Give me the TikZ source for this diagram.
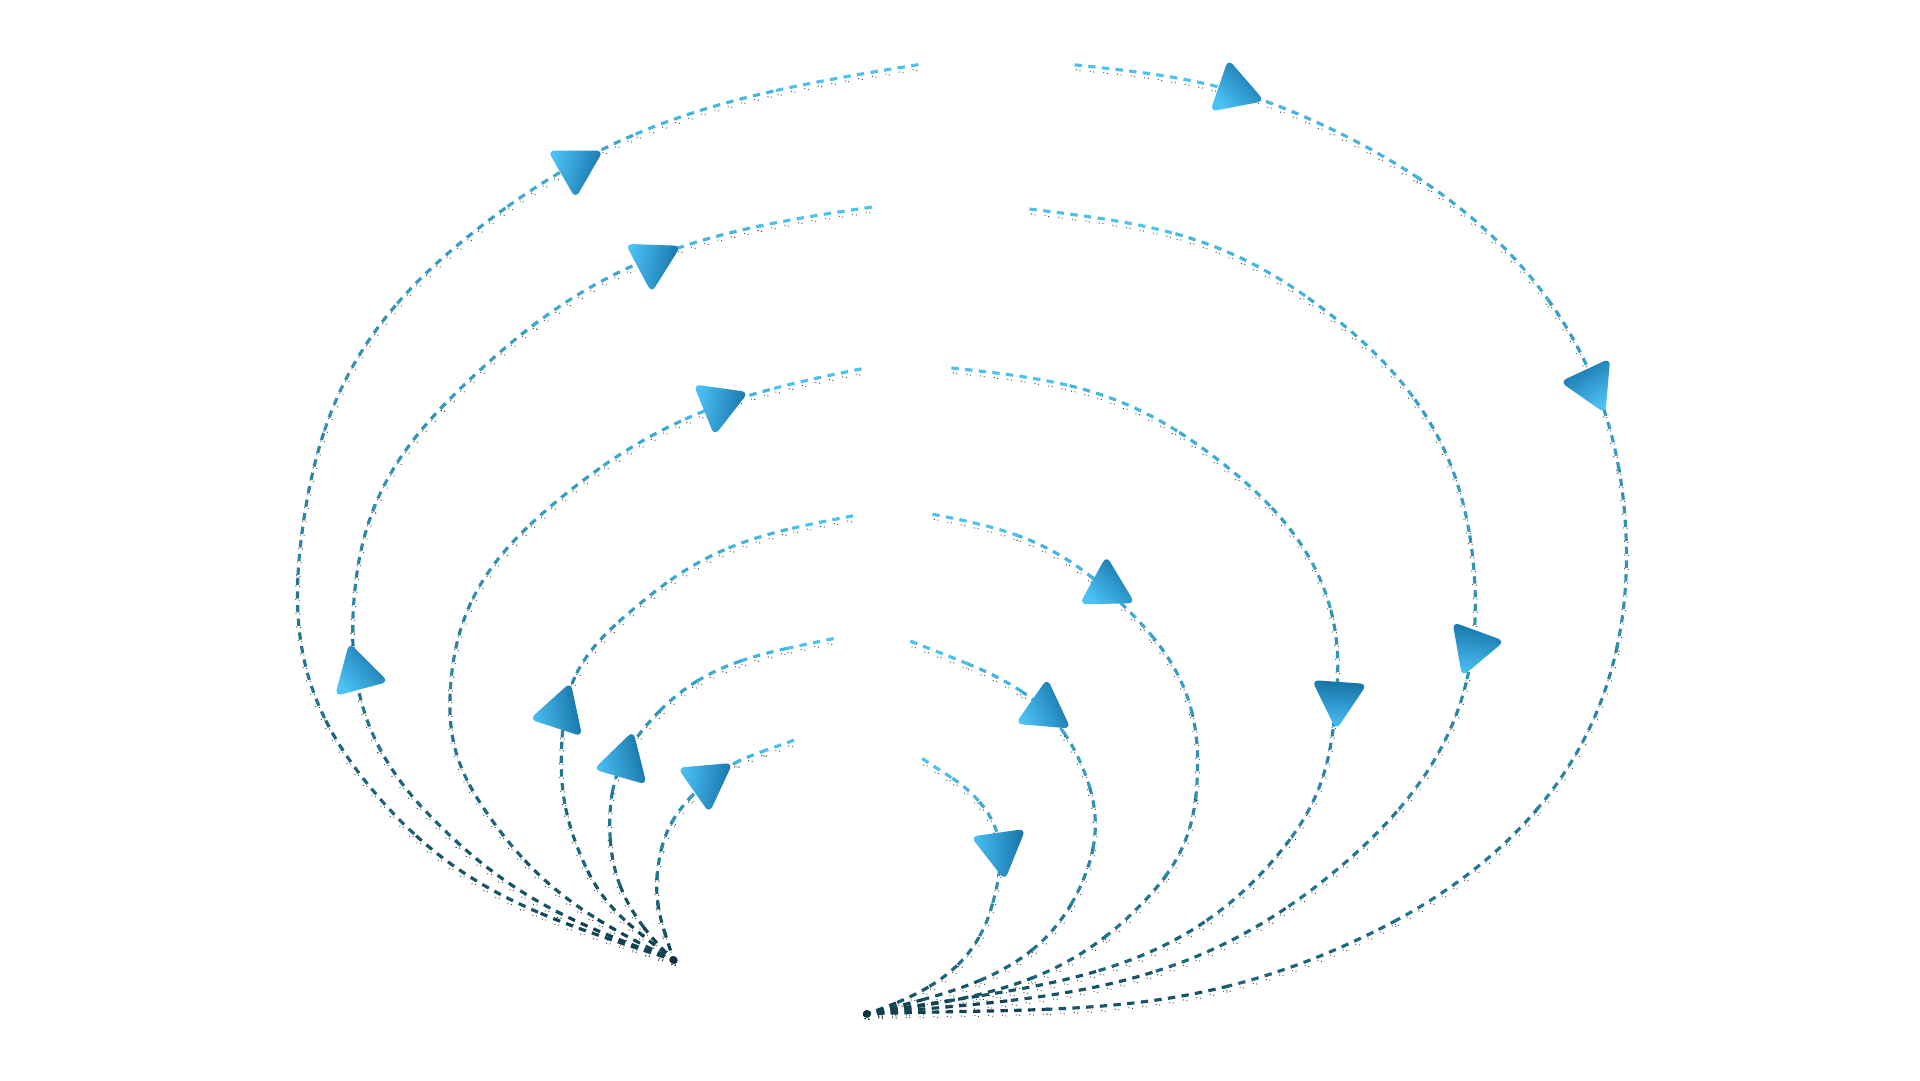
\documentclass[tikz,border=0pt]{standalone}
\usetikzlibrary{shapes.geometric, decorations.markings}
\definecolor{flowdark}{HTML}{0C3B49}
\definecolor{flowmid}{HTML}{2A86A4}
\definecolor{flowlight}{HTML}{4FC8F4}
\definecolor{trilight}{HTML}{4CC3F6}
\definecolor{tridark}{HTML}{1570A5}
\definecolor{hubcol}{HTML}{0E3340}
\colorlet{fc0}{flowmid!11!flowdark}
\colorlet{fc1}{flowmid!33!flowdark}
\colorlet{fc2}{flowmid!56!flowdark}
\colorlet{fc3}{flowmid!78!flowdark}
\colorlet{fc4}{flowmid}
\colorlet{fc5}{flowlight!18!flowmid}
\colorlet{fc6}{flowlight!36!flowmid}
\colorlet{fc7}{flowlight!55!flowmid}
\colorlet{fc8}{flowlight!73!flowmid}
\colorlet{fc9}{flowlight!91!flowmid}
\newcommand\flowdash[1]{%
    \draw[#1, line width=0.9pt] (-1.05pt,0pt) -- (1.05pt,0pt);%
    \pgftransformresetnontranslations
    \fill[black!75] (-0.5pt,-1.3pt) circle (0.18pt) (0.5pt,-1.5pt) circle (0.18pt);%
}
\tikzset{
    flow/.style={
        decoration={markings,
            mark=between positions 0 and 0.1 step 3.9pt with {\flowdash{fc0}},
            mark=between positions 0.1 and 0.2 step 3.9pt with {\flowdash{fc1}},
            mark=between positions 0.2 and 0.3 step 3.9pt with {\flowdash{fc2}},
            mark=between positions 0.3 and 0.4 step 3.9pt with {\flowdash{fc3}},
            mark=between positions 0.4 and 0.5 step 3.9pt with {\flowdash{fc4}},
            mark=between positions 0.5 and 0.6 step 3.9pt with {\flowdash{fc5}},
            mark=between positions 0.6 and 0.7 step 3.9pt with {\flowdash{fc6}},
            mark=between positions 0.7 and 0.8 step 3.9pt with {\flowdash{fc7}},
            mark=between positions 0.8 and 0.9 step 3.9pt with {\flowdash{fc8}},
            mark=between positions 0.9 and 1 step 3.9pt with {\flowdash{fc9}}
        },
        postaction={decorate}
    },
    trishape/.style={
        regular polygon, regular polygon sides=3, minimum size=0.64cm,
        inner sep=0pt, rounded corners=2pt,
        top color=trilight, bottom color=tridark
    },
    tri/.style 2 args={
        trishape, rotate=#1, shading angle={(#2)-90}
    },
    hub/.style={
        circle, fill=hubcol, inner sep=0pt, minimum size=0.08cm
    }
}
\begin{document}
\begin{tikzpicture}[x=0.012245cm, y=0.012245cm]
    \useasboundingbox (0,0) rectangle (1568,882);

    \coordinate (lf) at (550,98);
    \coordinate (rf) at (708,54);
    \coordinate (l1) at (755,830);
    \coordinate (l2) at (720,714);
    \coordinate (l3) at (710,582);
    \coordinate (l4) at (703,462);
    \coordinate (l5) at (683,361);
    \coordinate (l6) at (647,277);
    \coordinate (r1) at (878,829);
    \coordinate (r2) at (835,712);
    \coordinate (r3) at (772,582);
    \coordinate (r4) at (762,462);
    \coordinate (r5) at (742,359);
    \coordinate (r6) at (750,265);

    \path[flow] (lf) to[out=162,in=-51] (300,242) to[out=129,in=-97] (246,442) to[out=83,in=-141] (380,687) to[out=39,in=189] (l1);
    \path[flow] (lf) to[out=160,in=-46] (350,217) to[out=134,in=-96] (290,402) to[out=84,in=-138] (400,587) to[out=42,in=188] (l2);
    \path[flow] (lf) to[out=154,in=-56] (395,222) to[out=124,in=-94] (368,322) to[out=86,in=-141] (460,477) to[out=39,in=191] (l3);
    \path[flow] (lf) to[out=141,in=-66] (477,177) to[out=114,in=-95] (460,292) to[out=85,in=-141] (530,395) to[out=39,in=191] (l4);
    \path[flow] (lf) to[out=136,in=-91] (498,212) to[out=89,in=-131] (530,292) to[out=49,in=192] (l5);
    \path[flow] (lf) to[out=107,in=-96] (537,170) to[out=84,in=-136] (570,237) to[out=44,in=200] (l6);

    \path[flow] (rf) to[out=2,in=-154] (1120,120) to[out=26,in=-88] (1328,442) to[out=92,in=-25] (1080,780) to[out=155,in=-6] (r1);
    \path[flow] (rf) to[out=5,in=-140] (1092,172) to[out=40,in=-86] (1204,412) to[out=94,in=-36] (1072,636) to[out=144,in=-7] (r2);
    \path[flow] (rf) to[out=10,in=-128] (1050,192) to[out=52,in=-94] (1092,322) to[out=86,in=-36] (982,516) to[out=144,in=-6] (r3);
    \path[flow] (rf) to[out=8,in=-132] (940,152) to[out=48,in=-90] (978,260) to[out=90,in=-42] (904,400) to[out=138,in=-11] (r4);
    \path[flow] (rf) to[out=14,in=-113] (884,162) to[out=67,in=-66] (882,260) to[out=114,in=-22] (r5);
    \path[flow] (rf) to[out=19,in=-106] (810,142) to[out=74,in=-49] (800,227) to[out=131,in=-37] (r6);

    \node[hub] (lhub) at (lf) {};
    \node[hub] (rhub) at (rf) {};

    \node[tri={11}{225}]  (t1)  at (1008,808) {};
    \node[tri={60}{165}]  (t2)  at (470,746)  {};
    \node[tri={58}{170}]  (t3)  at (533,669)  {};
    \node[tri={52}{170}]  (t4)  at (587,552)  {};
    \node[tri={85}{300}]  (t5)  at (1300,568) {};
    \node[tri={1}{225}]   (t6)  at (904,402)  {};
    \node[tri={40}{260}]  (t7)  at (1203,354) {};
    \node[tri={56}{265}]  (t8)  at (1093,312) {};
    \node[tri={15}{220}]  (t9)  at (292,332)  {};
    \node[tri={-18}{190}] (t10) at (458,300)  {};
    \node[tri={-5}{205}]  (t11) at (853,302)  {};
    \node[tri={-16}{195}] (t12) at (510,260)  {};
    \node[tri={65}{170}]  (t13) at (577,244)  {};
    \node[tri={68}{180}]  (t14) at (817,189)  {};

\end{tikzpicture}
\end{document}
